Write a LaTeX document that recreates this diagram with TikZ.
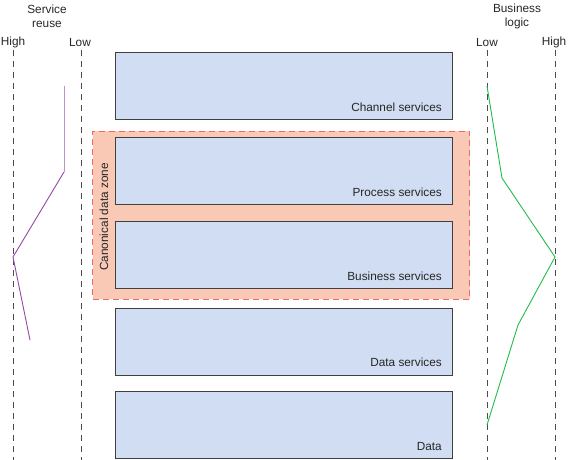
\documentclass[tikz,border=0pt]{standalone}
\usepackage{fontspec}
\setmainfont{Liberation Sans}
\begin{document}
\begin{tikzpicture}[x=1pt,y=-1pt,
  every node/.style={font=\fontsize{11.8}{14}\selectfont, text=black!85},
  layer/.style={draw=black!75, line width=0.8pt, fill=lyrblue},
  axisline/.style={draw=black!70, dashed, dash pattern=on 6pt off 5pt, line width=0.8pt},
  zone/.style={fill=zonefill, draw=zoneborder, dashed, dash pattern=on 6pt off 4pt, line width=0.9pt},
  lbl/.style={anchor=base east, inner sep=0pt},
  hdr/.style={align=center, inner sep=0pt}
]
\definecolor{lyrblue}{HTML}{D1DDF2}
\definecolor{zonefill}{HTML}{F9C9B6}
\definecolor{zoneborder}{HTML}{EE6A6A}
\definecolor{purpleline}{HTML}{9448A6}
\definecolor{greenline}{HTML}{1EBE48}
\useasboundingbox (0,0) rectangle (568,460);

% axes
\draw[axisline] (13,50) -- (13,460);
\draw[axisline] (81,50) -- (81,460);
\draw[axisline] (487,50) -- (487,460);
\draw[axisline] (555,50) -- (555,460);

\node[hdr] (sr) at (47,16) {Service\\reuse};
\node[hdr] (bl) at (517,16) {Business\\logic};
\node[inner sep=0pt] (hl) at (13,42) {High};
\node[inner sep=0pt] (ll) at (80,42) {Low};
\node[inner sep=0pt] (lr) at (487,42) {Low};
\node[inner sep=0pt] (hr) at (554,42) {High};

% zone
\node[zone, minimum width=377pt, minimum height=168pt, inner sep=0pt] (zone) at (281,215) {};
\node[rotate=90, inner sep=0pt] (zlab) at (104,217) {Canonical data zone};

% layers
\node[layer, minimum width=337pt, minimum height=67pt, inner sep=0pt] (ch) at (284,86) {};
\node[layer, minimum width=337pt, minimum height=67pt, inner sep=0pt] (pr) at (284,170.5) {};
\node[layer, minimum width=337pt, minimum height=67pt, inner sep=0pt] (bu) at (284,254.5) {};
\node[layer, minimum width=337pt, minimum height=67pt, inner sep=0pt] (da) at (284,341.5) {};
\node[layer, minimum width=337pt, minimum height=67pt, inner sep=0pt] (dt) at (284,424.5) {};

\node[lbl] (chl) at (442,111) {Channel services};
\node[lbl] (prl) at (442,196) {Process services};
\node[lbl] (bul) at (442,280) {Business services};
\node[lbl] (dal) at (442,366) {Data services};
\node[lbl] (dtl) at (442,450) {Data};

% curves
\coordinate (p1) at (64,86);
\coordinate (p2) at (64,172);
\coordinate (p3) at (13,257);
\coordinate (p4) at (30,340);
\draw[purpleline!60, line width=0.9pt] (p1) -- (p2);
\draw[purpleline, line width=0.9pt] (p2) -- (p3) -- (p4);

\coordinate (g1) at (487,86);
\coordinate (g2) at (502,178);
\coordinate (g3) at (555,257);
\coordinate (g4) at (518,325);
\coordinate (g5) at (487,425);
\draw[greenline, line width=0.9pt] (g1) -- (g2) -- (g3) -- (g4) -- (g5);
\end{tikzpicture}
\end{document}
